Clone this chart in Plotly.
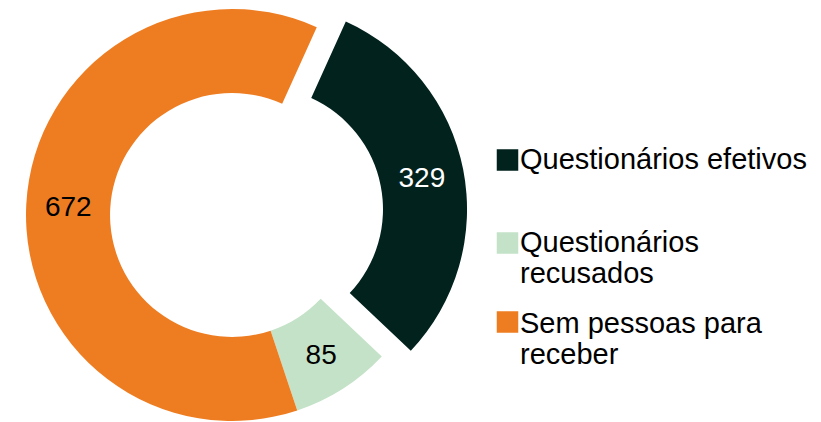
import math
import plotly.graph_objects as go

# ---- data ----
labels = ["Questionários efetivos", "Questionários recusados", "Sem pessoas para receber"]
values = [329, 85, 672]
legend_lines = [["Questionários efetivos"], ["Questionários", "recusados"], ["Sem pessoas para", "receber"]]
colors = ["#02221D", "#C3E2C7", "#EE7D22"]
text_colors = ["white", "black", "black"]

# ---- layout geometry (pixels) ----
W, H = 821, 422
CX, CY, R = 232, 215, 206
HOLE = 0.592
ROT = 24.3
PULL_PX = 29.6
FONT = "Liberation Sans, Arial, sans-serif"
NUM_SIZE = 28
LEG_SIZE = 29
TRANSPARENT = "rgba(0,0,0,0)"

total = sum(values)
mid = math.radians(ROT + 360.0 * values[0] / total / 2.0)
sdx = PULL_PX * math.sin(mid)
sdy = -PULL_PX * math.cos(mid)


def domain(cx, cy):
    return dict(x=[(cx - R) / W, (cx + R) / W], y=[1 - (cy + R) / H, 1 - (cy - R) / H])


fig = go.Figure()

# main ring: the exploded first slice is drawn separately
fig.add_trace(go.Pie(
    labels=labels,
    values=values,
    marker=dict(colors=[TRANSPARENT] + colors[1:], line=dict(width=0)),
    text=[""] + [str(v) for v in values[1:]],
    textinfo="text",
    textposition="inside",
    insidetextorientation="horizontal",
    textfont=dict(family=FONT, size=NUM_SIZE, color=text_colors),
    hole=HOLE,
    sort=False,
    direction="clockwise",
    rotation=ROT,
    domain=domain(CX, CY),
    hovertemplate="%{label}: %{value}<extra></extra>",
    showlegend=False,
))

# exploded slice
rest = total - values[0]
fig.add_trace(go.Pie(
    labels=[labels[0], "rest"],
    values=[values[0], rest],
    marker=dict(colors=[colors[0], TRANSPARENT], line=dict(width=0)),
    text=[str(values[0]), ""],
    textinfo="text",
    textposition="inside",
    insidetextorientation="horizontal",
    textfont=dict(family=FONT, size=NUM_SIZE, color=[text_colors[0], TRANSPARENT]),
    hole=HOLE,
    sort=False,
    direction="clockwise",
    rotation=ROT,
    domain=domain(CX + sdx, CY + sdy),
    hoverinfo="skip",
    showlegend=False,
))

# ---- manual legend ----
sw_x0, sw_size = 497.5, 20
sw_centers = [160, 243, 322]
first_baselines = [169.5, 252, 333]
line_step = 31
text_x = 518
shapes = []
annotations = []
for i, lines in enumerate(legend_lines):
    c = sw_centers[i]
    x0, x1 = sw_x0 / W, (sw_x0 + sw_size) / W
    y0, y1 = 1 - (c + sw_size / 2) / H, 1 - (c - sw_size / 2) / H
    shapes.append(dict(type="rect", xref="paper", yref="paper", x0=x0, x1=x1, y0=y0, y1=y1,
                       fillcolor=colors[i], line=dict(width=1.5, color=colors[i])))
    for j, ln in enumerate(lines):
        base = first_baselines[i] + j * line_step
        yc = base - 0.3465 * LEG_SIZE
        annotations.append(dict(text=ln, xref="paper", yref="paper", x=text_x / W, y=1 - yc / H,
                                xanchor="left", yanchor="middle", showarrow=False,
                                font=dict(family=FONT, size=LEG_SIZE, color="black")))

fig.update_layout(
    width=W, height=H,
    margin=dict(l=0, r=0, t=0, b=0),
    paper_bgcolor="white",
    plot_bgcolor="white",
    showlegend=False,
    shapes=shapes,
    annotations=annotations,
    font=dict(family=FONT),
)

fig.write_html("out.html", config={"displayModeBar": False},
               post_script="document.body.style.margin='0';")
